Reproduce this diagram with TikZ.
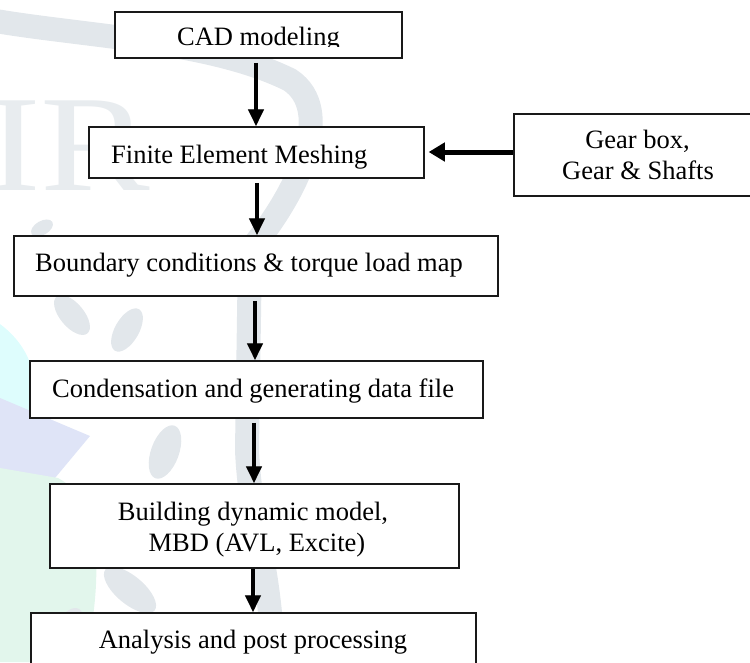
\documentclass[tikz,border=0pt]{standalone}
\usepackage{fontspec}
\setmainfont{Liberation Serif}
\usetikzlibrary{arrows.meta}
\definecolor{wmgrey}{RGB}{226,231,235}
\definecolor{wmlight}{RGB}{232,236,239}
\definecolor{wmcyan}{RGB}{222,253,253}
\definecolor{wmblue}{RGB}{223,228,247}
\definecolor{wmgreen}{RGB}{226,246,236}
\begin{document}
\begin{tikzpicture}[x=1pt,y=-1pt,
  box/.style={draw=black!90, line width=1.5pt, fill=white, inner sep=0pt},
  lbl/.style={inner sep=0pt, font=\fontsize{26.5}{30.5}\selectfont},
  flow/.style={line width=4pt, -{Triangle[length=17pt,width=15pt]}},
  flowshade/.style={flow, draw=black!30},
  feed/.style={line width=5pt, -{Triangle[length=16pt,width=18pt]}},
  feedshade/.style={feed, draw=black!30}]
\useasboundingbox (0,0) rectangle (750,662);
\clip (0,0) rectangle (750,662);

% faint logo in the background
\fill[wmcyan] (-60,390) ellipse [x radius=95, y radius=85];
\fill[wmblue] (0,398) -- (90,436) -- (55,478) -- (0,470) -- cycle;
\fill[wmgreen] (0,468) -- (58,478) .. controls (100,500) and (105,570) .. (85,662) -- (0,662) -- cycle;
\node[anchor=base west, inner sep=0pt, text=wmlight,
      font=\fontsize{137}{137}\selectfont] (logoletters) at (-14,190) {\scalebox{1.2}[1]{IR}};
\draw[wmgrey, line width=24pt, line cap=round]
  (-10,20) .. controls (80,36) and (210,40) .. (290,80)
  .. controls (335,110) and (300,190) .. (250,250)
  -- (247,450) .. controls (250,520) and (268,560) .. (272,640);
\fill[wmgrey, rotate around={30:(42,228)}] (42,228) ellipse [x radius=12, y radius=7];
\fill[wmgrey, rotate around={-50:(72,315)}] (72,315) ellipse [x radius=24, y radius=12];
\fill[wmgrey, rotate around={60:(127,330)}] (127,330) ellipse [x radius=24, y radius=12];
\fill[wmgrey, rotate around={70:(165,452)}] (165,452) ellipse [x radius=28, y radius=14];
\fill[wmgrey, rotate around={-40:(130,590)}] (130,590) ellipse [x radius=32, y radius=14];
\fill[wmgrey, rotate around={60:(68,628)}] (68,628) ellipse [x radius=22, y radius=12];

% process boxes
\node[box, minimum width=287pt, minimum height=46pt] (cad)   at (258.5,35)  {};
\node[box, minimum width=335pt, minimum height=51pt] (fem)   at (256.5,152.5) {};
\node[box, minimum width=238pt, minimum height=82pt] (gear)  at (633,155)   {};
\node[box, minimum width=484pt, minimum height=60pt] (bnd)   at (256,266)   {};
\node[box, minimum width=453pt, minimum height=57pt] (cond)  at (256.5,389.5) {};
\node[box, minimum width=409pt, minimum height=84pt] (build) at (254.5,526) {};
\node[box, minimum width=445pt, minimum height=64pt] (ana)   at (253.5,645) {};

% labels
\begin{scope}
  \clip (115,12) rectangle (402,46.5);
  \node[lbl, anchor=base] (cadtext) at (258.5,45) {CAD modeling};
\end{scope}
\node[lbl, anchor=base west] (femtext) at (111,163) {Finite Element Meshing};
\node[lbl, anchor=base] (geartext1) at (637.5,148.5) {Gear box,};
\node[lbl, anchor=base] (geartext2) at (638,179) {Gear \& Shafts};
\node[lbl, anchor=base west] (bndtext) at (35,271) {Boundary conditions \& torque load map};
\node[lbl, anchor=base west] (condtext) at (52,397) {Condensation and generating data file};
\node[lbl, anchor=base] (buildtext1) at (253,520) {Building dynamic model,};
\node[lbl, anchor=base] (buildtext2) at (257,551) {MBD (AVL, Excite)};
\node[lbl, anchor=base] (anatext) at (253,648) {Analysis and post processing};

% connectors with their soft shadows
\begin{scope}[shift={(1.5,2)}]
  \draw[flowshade] ([xshift=-2.5pt,yshift=-4pt]cad.south) -- ([xshift=-0.5pt]fem.north);
  \draw[flowshade] ([xshift=0.5pt,yshift=-4pt]fem.south) -- ([xshift=1pt]bnd.north);
  \draw[flowshade] ([xshift=-1pt,yshift=-4pt]bnd.south) -- ([xshift=-1.5pt]cond.north);
  \draw[flowshade] ([xshift=-2.5pt,yshift=-4pt]cond.south) -- ([xshift=-0.5pt]build.north);
  \draw[flowshade] ([xshift=-1.5pt]build.south) -- ([xshift=-0.5pt]ana.north);
\end{scope}
\begin{scope}[shift={(2,4)}]
  \draw[feedshade] ([yshift=3pt]gear.west) -- ([xshift=4pt,yshift=0.5pt]fem.east);
\end{scope}
\draw[flow] ([xshift=-2.5pt,yshift=-4pt]cad.south) -- ([xshift=-0.5pt]fem.north);
\draw[flow] ([xshift=0.5pt,yshift=-4pt]fem.south) -- ([xshift=1pt]bnd.north);
\draw[flow] ([xshift=-1pt,yshift=-4pt]bnd.south) -- ([xshift=-1.5pt]cond.north);
\draw[flow] ([xshift=-2.5pt,yshift=-4pt]cond.south) -- ([xshift=-0.5pt]build.north);
\draw[flow] ([xshift=-1.5pt]build.south) -- ([xshift=-0.5pt]ana.north);
\draw[feed] ([yshift=3pt]gear.west) -- ([xshift=4pt,yshift=0.5pt]fem.east);
\end{tikzpicture}
\end{document}
